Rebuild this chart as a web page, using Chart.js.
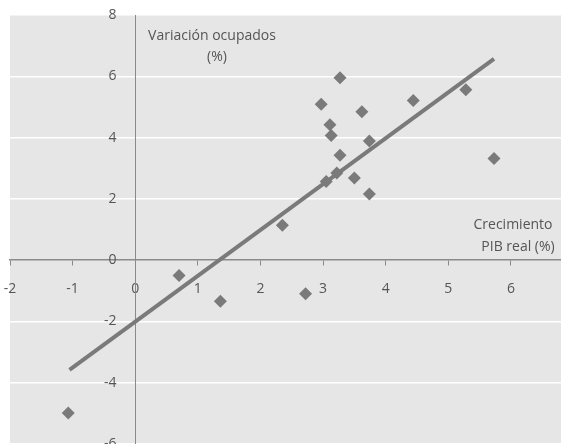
<!DOCTYPE html>
<html>
<head>
<meta charset="utf-8">
<script src="https://cdn.jsdelivr.net/npm/chart.js@4/dist/chart.umd.min.js"></script>
<style>
  html, body { margin: 0; padding: 0; background: #fff; }
  #wrap { width: 561px; height: 444px; }
</style>
</head>
<body>
<div id="wrap"><canvas id="myChart" width="561" height="444"></canvas></div>
<script>
// crecimiento PIB real (%) vs variacion ocupados (%)
const pibX = [-1.07, 0.70, 1.36, 2.35, 2.72, 2.97, 3.05, 3.11, 3.13, 3.22, 3.27, 3.27, 3.50, 3.62, 3.74, 3.74, 4.44, 5.28, 5.73];
const ocupY = [-4.99, -0.50, -1.34, 1.14, -1.10, 5.09, 2.57, 4.42, 4.07, 2.84, 5.95, 3.42, 2.68, 4.84, 3.89, 2.16, 5.21, 5.56, 3.32];

// recta de tendencia (extremos)
const trendX = [-1.05, 5.73];
const trendY = [-3.58, 6.57];

const xTicks = [-2, -1, 0, 1, 2, 3, 4, 5, 6];
const yTicks = [-6, -4, -2, 0, 2, 4, 6, 8];

const GREY = '#7a7a7a';
const TXT = '#555555';
const FONT = { family: 'Open Sans', size: 14 };

const points = pibX.map((x, i) => ({ x: x, y: ocupY[i] }));
const trend = trendX.map((x, i) => ({ x: x, y: trendY[i] }));

const bgPlugin = {
    id: 'bg',
    beforeDraw(chart) {
        const { ctx, chartArea } = chart;
        ctx.save();
        ctx.fillStyle = '#e6e6e6';
        ctx.fillRect(chartArea.left, chartArea.top, chartArea.right - chartArea.left, chartArea.bottom - chartArea.top);
        ctx.restore();
    }
};

const titlesPlugin = {
    id: 'axisTitles',
    afterDraw(chart) {
        const { ctx } = chart;
        ctx.save();
        ctx.fillStyle = TXT;
        ctx.font = '14px "Open Sans"';
        ctx.textAlign = 'center';
        ctx.textBaseline = 'middle';
        ctx.fillText('Variación ocupados', 212, 36);
        ctx.fillText('(%)', 217, 57);
        ctx.fillText('Crecimiento', 513, 225);
        ctx.fillText('PIB real (%)', 518, 247);
        ctx.restore();
    }
};

const noSpace = (scale) => {
    if (scale.isHorizontal()) scale.height = 0; else scale.width = 0;
    scale.paddingLeft = 0; scale.paddingRight = 0;
    scale.paddingTop = 0; scale.paddingBottom = 0;
};

const yRange = { min: -6, max: 8 };

const config = {
    type: 'scatter',
    data: {
        datasets: [
            {
                type: 'line',
                data: trend,
                borderColor: GREY,
                borderWidth: 4,
                pointRadius: 0,
                fill: false,
                order: 2
            },
            {
                data: points,
                pointStyle: 'rectRot',
                pointRadius: 6.5,
                pointHoverRadius: 6.5,
                backgroundColor: GREY,
                borderWidth: 0,
                order: 1
            }
        ]
    },
    options: {
        responsive: false,
        devicePixelRatio: 1,
        animation: false,
        layout: { autoPadding: false, padding: { left: 10, top: 15, right: 0, bottom: -1 } },
        plugins: {
            legend: { display: false },
            tooltip: { enabled: false }
        },
        scales: {
            x: {
                type: 'linear',
                position: { y: 0 },
                min: -2,
                max: 6.8,
                afterBuildTicks: (s) => { s.ticks = xTicks.map(v => ({ value: v })); },
                afterFit: noSpace,
                grid: { drawOnChartArea: false, drawTicks: true, tickLength: 5, color: '#8a8a8a', lineWidth: 1 },
                border: { display: true, color: '#8a8a8a', width: 1.5 },
                ticks: { color: TXT, font: FONT, padding: 15, maxRotation: 0, autoSkip: false }
            },
            y: {
                type: 'linear',
                position: { x: 0 },
                ...yRange,
                afterBuildTicks: (s) => { s.ticks = yTicks.map(v => ({ value: v })); },
                afterFit: noSpace,
                grid: {
                    drawTicks: false,
                    color: (c) => (c.tick && c.tick.value === 0 ? 'rgba(0,0,0,0)' : '#ffffff'),
                    lineWidth: 1.5
                },
                border: { display: true, color: '#8a8a8a', width: 1 },
                ticks: { display: false }
            },
            // labels of the vertical axis, set a little to the left of the axis line
            yLabels: {
                type: 'linear',
                axis: 'y',
                position: { x: -0.3 },
                ...yRange,
                afterBuildTicks: (s) => { s.ticks = yTicks.map(v => ({ value: v })); },
                afterFit: noSpace,
                grid: { display: false },
                border: { display: false },
                ticks: { color: TXT, font: FONT }
            }
        }
    },
    plugins: [bgPlugin, titlesPlugin]
};

const chart = new Chart(document.getElementById('myChart').getContext('2d'), config);
</script>
</body>
</html>
